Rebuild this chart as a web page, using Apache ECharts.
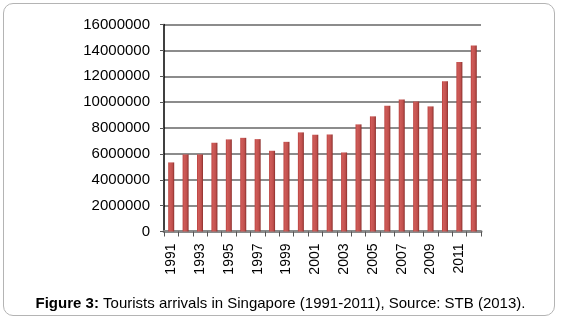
<!DOCTYPE html>
<html>
<head>
<meta charset="utf-8">
<script src="https://cdn.jsdelivr.net/npm/echarts@6/dist/echarts.min.js"></script>
<style>
html, body { margin: 0; padding: 0; background: #fff; }
#chart { width: 561px; height: 322px; }
.frame {
  position: absolute; left: 3px; top: 3px; width: 552px; height: 313px;
  border: 1.5px solid #b4b4b4; border-radius: 10px; box-sizing: border-box;
  pointer-events: none;
}
</style>
</head>
<body>
<div class="frame"></div>
<div id="chart"></div>
<script>
// years on the category axis
const years = ["1991","1992","1993","1994","1995","1996","1997","1998","1999","2000","2001",
  "2002","2003","2004","2005","2006","2007","2008","2009","2010","2011","2012"]
// tourist arrivals
const arrivals = [5340000, 5960000, 5960000, 6860000, 7120000, 7240000, 7140000, 6240000,
  6930000, 7660000, 7480000, 7500000, 6110000, 8280000, 8900000, 9720000, 10200000,
  10050000, 9670000, 11620000, 13110000, 14380000]
const yTicks = [0, 2000000, 4000000, 6000000, 8000000, 10000000, 12000000, 14000000, 16000000]

const chart = echarts.init(document.getElementById("chart"))
const option = {
  animation: false,
  textStyle: { fontFamily: "Liberation Sans, Arial, sans-serif" },
  title: {
    left: "center",
    top: 291,
    text: "{b|Figure 3:} Tourists arrivals in Singapore (1991-2011), Source: STB (2013).",
    textStyle: {
      fontSize: 15,
      fontWeight: "normal",
      color: "#000",
      rich: {
        b: { fontWeight: "bold", fontSize: 15, color: "#000" },
      },
    },
  },
  grid: {
    left: 164,
    right: 80,
    top: 24.5,
    bottom: 90.5,
  },
  xAxis: {
    type: "category",
    data: years,
    axisLine: { lineStyle: { color: "#8a8a8a", width: 3 } },
    axisTick: { show: true, interval: 0, length: 5, lineStyle: { color: "#555" } },
    axisLabel: {
      interval: 1,
      rotate: 90,
      margin: 12,
      fontSize: 14,
      color: "#000",
    },
  },
  yAxis: {
    type: "value",
    min: yTicks[0],
    max: yTicks[yTicks.length - 1],
    interval: yTicks[1] - yTicks[0],
    axisLine: { show: true, lineStyle: { color: "#000", width: 1.5 } },
    axisTick: { show: true, length: 4, lineStyle: { color: "#555" } },
    axisLabel: { fontSize: 15, color: "#000", margin: 14, formatter: (v) => String(v) },
    splitLine: { lineStyle: { color: "#8c8c8c", width: 2 } },
  },
  series: [
    {
      type: "bar",
      data: arrivals,
      barWidth: 6,
      itemStyle: {
        color: new echarts.graphic.LinearGradient(0, 0, 1, 0, [
          { offset: 0, color: "#b9403d" },
          { offset: 0.25, color: "#cf5c59" },
          { offset: 0.7, color: "#c0504d" },
          { offset: 1, color: "#8a2e2b" },
        ]),
      },
    },
  ],
}
chart.setOption(option)
</script>
</body>
</html>
